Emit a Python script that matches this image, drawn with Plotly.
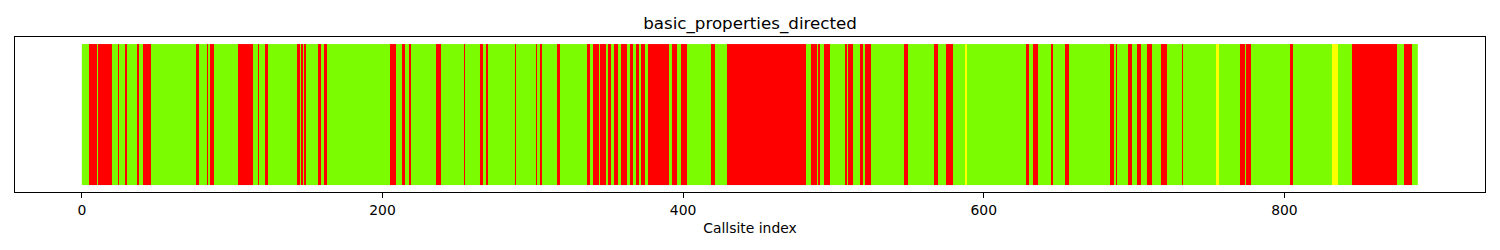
import plotly.graph_objects as go

# ---- data ----
n_callsites = 889
title_text = "basic_properties_directed"
x_label = "Callsite index"
tick_values = [0, 200, 400, 600, 800]
tick_labels = ["0", "200", "400", "600", "800"]

# callsite index ranges (inclusive) per status; everything else is "ok" (green)
red_ranges = [
    (5, 9), (11, 19), (24, 24), (29, 29), (37, 37), (41, 45), (76, 77), (83, 83), (85, 87),
    (104, 113), (117, 117), (122, 123), (143, 144), (146, 146), (148, 148), (157, 158), (161, 162),
    (205, 208), (213, 214), (218, 218), (236, 238), (254, 254),
    (265, 266), (269, 269), (288, 288), (302, 302), (305, 305), (316, 317), (336, 337),
    (340, 343), (345, 348), (350, 351),
    (354, 356), (359, 362), (365, 366), (369, 370), (372, 374), (377, 390), (393, 395),
    (399, 402), (419, 420), (429, 481),
    (485, 488), (490, 490), (494, 497), (508, 508), (510, 512), (518, 519), (521, 524),
    (547, 549), (567, 569), (575, 579),
    (628, 629), (633, 635), (645, 645), (654, 656), (684, 686), (688, 688), (696, 698),
    (702, 704), (709, 711),
    (718, 721), (732, 732), (771, 773), (775, 777),
    (804, 805), (845, 874), (880, 884),
]
yellow_ranges = [(588, 588), (755, 756), (832, 835)]

status_colors = ["#7CFC00", "#FF0000", "#FFFF00"]  # ok, fail, partial

status = [0] * n_callsites
for a, b in red_ranges:
    for i in range(a, b + 1):
        status[i] = 1
for a, b in yellow_ranges:
    for i in range(a, b + 1):
        status[i] = 2

colorscale = [
    [0.0, status_colors[0]], [1 / 3, status_colors[0]],
    [1 / 3, status_colors[1]], [2 / 3, status_colors[1]],
    [2 / 3, status_colors[2]], [1.0, status_colors[2]],
]

fig = go.Figure(
    go.Heatmap(
        z=[status],
        x0=0.5, dx=1,
        y0=0.5, dy=1,
        zmin=0, zmax=2,
        colorscale=colorscale,
        showscale=False,
        hoverinfo="x+z",
    )
)

pad = 0.05 * n_callsites
fig.update_layout(
    width=1500,
    height=250,
    margin=dict(l=15, r=15, t=37, b=58),
    paper_bgcolor="white",
    plot_bgcolor="white",
    font=dict(family="DejaVu Sans", size=14, color="black"),
    title=dict(
        text=title_text,
        x=0.5, xref="paper", xanchor="center",
        y=1 - 23 / 250, yref="container", yanchor="middle",
        font=dict(size=16.7, family="DejaVu Sans", color="black"),
    ),
    xaxis=dict(
        range=[-pad, n_callsites + pad],
        tickmode="array",
        tickvals=tick_values,
        ticktext=tick_labels,
        ticks="outside",
        ticklen=5,
        tickwidth=1.1,
        tickcolor="black",
        showline=True,
        linecolor="black",
        linewidth=1.1,
        mirror=True,
        showgrid=False,
        zeroline=False,
        tickfont=dict(size=13.9),
        title=dict(text=x_label, font=dict(size=13.9), standoff=6),
    ),
    yaxis=dict(
        range=[-0.05, 1.05],
        showticklabels=False,
        ticks="",
        showline=True,
        linecolor="black",
        linewidth=1.1,
        mirror=True,
        showgrid=False,
        zeroline=False,
    ),
)

fig.write_html("out.html")
